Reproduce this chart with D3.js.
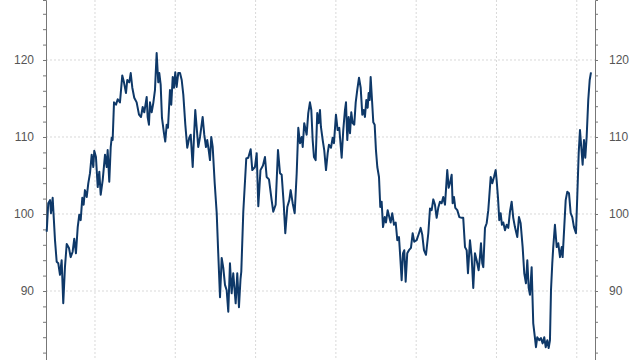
<!DOCTYPE html>
<html>
<head>
<meta charset="utf-8">
<script src="https://cdn.jsdelivr.net/npm/d3@7"></script>
<style>
  body { margin: 0; background: #fff; }
  text { font-family: "Liberation Sans", Arial, sans-serif; }
</style>
</head>
<body>
<svg id="chart"></svg>
<script>
var width = 640, height = 360;

// decimal years and index values
var dates = [
  2011.399, 2011.418, 2011.440, 2011.452, 2011.473, 2011.502, 2011.523, 2011.543, 2011.564, 2011.585,
  2011.605, 2011.626, 2011.648, 2011.676, 2011.697, 2011.722, 2011.742, 2011.763, 2011.785, 2011.804,
  2011.822, 2011.842, 2011.859, 2011.875, 2011.897, 2011.917, 2011.938, 2011.959, 2011.979, 2011.991,
  2012.012, 2012.034, 2012.054, 2012.071, 2012.096, 2012.125, 2012.146, 2012.158, 2012.178, 2012.196,
  2012.208, 2012.220, 2012.237, 2012.262, 2012.283, 2012.311, 2012.340, 2012.361, 2012.386, 2012.402,
  2012.427, 2012.445, 2012.465, 2012.489, 2012.519, 2012.548, 2012.573, 2012.594, 2012.614, 2012.644,
  2012.656, 2012.672, 2012.685, 2012.706, 2012.726, 2012.747, 2012.768, 2012.788, 2012.801, 2012.818,
  2012.834, 2012.859, 2012.875, 2012.893, 2012.909, 2012.934, 2012.950, 2012.968, 2012.984, 2013.000,
  2013.017, 2013.037, 2013.059, 2013.080, 2013.100, 2013.125, 2013.149, 2013.174, 2013.192, 2013.217,
  2013.233, 2013.249, 2013.266, 2013.286, 2013.308, 2013.341, 2013.361, 2013.382, 2013.398, 2013.416,
  2013.432, 2013.448, 2013.466, 2013.491, 2013.516, 2013.535, 2013.557, 2013.578, 2013.598, 2013.619,
  2013.640, 2013.660, 2013.681, 2013.702, 2013.722, 2013.752, 2013.772, 2013.793, 2013.812, 2013.822,
  2013.847, 2013.884, 2013.909, 2013.939, 2013.959, 2013.992, 2014.014, 2014.034, 2014.061, 2014.092,
  2014.117, 2014.138, 2014.167, 2014.200, 2014.220, 2014.250, 2014.279, 2014.304, 2014.325, 2014.350,
  2014.370, 2014.395, 2014.420, 2014.437, 2014.462, 2014.487, 2014.512, 2014.532, 2014.553, 2014.574,
  2014.587, 2014.606, 2014.636, 2014.656, 2014.677, 2014.694, 2014.711, 2014.727, 2014.748, 2014.768,
  2014.786, 2014.802, 2014.814, 2014.836, 2014.855, 2014.877, 2014.898, 2014.914, 2014.939, 2014.960,
  2014.976, 2015.001, 2015.022, 2015.042, 2015.072, 2015.092, 2015.113, 2015.126, 2015.142, 2015.159,
  2015.176, 2015.192, 2015.209, 2015.229, 2015.247, 2015.266, 2015.288, 2015.309, 2015.329, 2015.346,
  2015.362, 2015.379, 2015.396, 2015.408, 2015.421, 2015.433, 2015.450, 2015.466, 2015.483, 2015.499,
  2015.516, 2015.537, 2015.553, 2015.570, 2015.587, 2015.608, 2015.624, 2015.645, 2015.665, 2015.682,
  2015.702, 2015.724, 2015.745, 2015.765, 2015.786, 2015.802, 2015.819, 2015.836, 2015.852, 2015.869,
  2015.889, 2015.910, 2015.935, 2015.956, 2015.976, 2016.006, 2016.035, 2016.056, 2016.076, 2016.097,
  2016.122, 2016.151, 2016.172, 2016.193, 2016.213, 2016.234, 2016.255, 2016.275, 2016.296, 2016.317,
  2016.337, 2016.359, 2016.387, 2016.405, 2016.421, 2016.442, 2016.454, 2016.471, 2016.487, 2016.512,
  2016.537, 2016.567, 2016.586, 2016.608, 2016.629, 2016.645, 2016.670, 2016.691, 2016.711, 2016.732,
  2016.753, 2016.778, 2016.794, 2016.807, 2016.823, 2016.836, 2016.857, 2016.878, 2016.898, 2016.910,
  2016.928, 2016.948, 2016.969, 2016.990, 2017.002, 2017.019, 2017.035, 2017.052, 2017.068, 2017.085,
  2017.106, 2017.127, 2017.147, 2017.168, 2017.189, 2017.209, 2017.230, 2017.259, 2017.280, 2017.301,
  2017.326, 2017.346, 2017.367, 2017.384, 2017.401, 2017.417, 2017.438, 2017.458, 2017.479, 2017.492,
  2017.508, 2017.533, 2017.554, 2017.575, 2017.595, 2017.613, 2017.633, 2017.650, 2017.666, 2017.679,
  2017.695, 2017.707, 2017.728, 2017.750, 2017.770, 2017.791, 2017.812, 2017.824, 2017.844, 2017.862,
  2017.882, 2017.903, 2017.924, 2017.944, 2017.965, 2017.990, 2018.006, 2018.024, 2018.040, 2018.056,
  2018.073, 2018.090, 2018.106, 2018.123, 2018.143, 2018.161, 2018.177
];

var values = [
  97.7, 101.4, 101.8, 100.1, 102.1, 96.6, 93.8, 93.6, 92.1, 94.0,
  88.4, 93.1, 96.1, 95.6, 94.4, 95.1, 96.8, 94.9, 98.3, 99.9,
  99.2, 102.1, 101.2, 103.1, 102.2, 104.0, 105.3, 107.7, 106.1, 108.2,
  107.4, 103.5, 105.5, 102.5, 104.4, 107.7, 106.1, 108.3, 104.2, 108.7,
  109.9, 109.6, 114.5, 114.2, 114.9, 114.5, 118.0, 117.1, 115.7, 117.4,
  117.1, 118.3, 116.4, 115.1, 114.5, 112.9, 112.6, 113.9, 113.2, 115.2,
  112.6, 111.6, 114.5, 113.2, 114.4, 116.1, 120.9, 117.1, 118.3, 116.8,
  112.5, 110.5, 109.4, 111.6, 111.2, 116.1, 114.2, 117.8, 116.4, 118.4,
  116.5, 118.3, 118.3, 117.4, 115.5, 111.6, 108.6, 109.9, 110.3, 106.1,
  110.0, 113.5, 111.3, 108.7, 110.0, 112.6, 110.3, 108.7, 109.6, 108.3,
  107.0, 110.0, 108.7, 104.0, 100.1, 94.9, 89.2, 94.3, 93.0, 90.8,
  90.1, 87.3, 93.6, 89.7, 92.3, 88.4, 92.3, 87.9, 91.5, 92.5,
  100.3, 107.2, 107.3, 108.4, 105.7, 106.1, 107.9, 101.0, 105.7, 106.3,
  107.4, 104.8, 104.5, 101.8, 100.3, 101.2, 108.3, 105.3, 105.1, 101.4,
  97.5, 100.9, 101.8, 103.1, 101.4, 100.1, 105.3, 111.2, 109.2, 110.0,
  108.7, 111.8, 110.3, 113.1, 114.5, 113.5, 109.6, 107.4, 107.0, 113.1,
  111.8, 113.5, 111.3, 109.6, 108.3, 105.7, 107.9, 109.0, 108.6, 109.9,
  109.2, 112.9, 110.9, 111.2, 107.3, 110.9, 113.5, 114.5, 109.6, 112.6,
  110.5, 113.2, 111.8, 111.6, 114.5, 116.1, 117.7, 116.4, 112.9, 113.5,
  112.6, 114.8, 113.8, 115.7, 114.8, 117.8, 114.8, 111.9, 111.6, 108.3,
  106.1, 104.8, 100.9, 101.6, 98.3, 99.6, 98.9, 100.5, 99.6, 98.9,
  100.1, 98.6, 98.9, 96.6, 97.0, 94.4, 91.4, 94.9, 95.3, 91.2,
  94.9, 95.3, 95.6, 97.5, 96.4, 96.6, 97.5, 98.2, 97.3, 95.3,
  94.7, 97.5, 100.7, 100.5, 101.9, 101.2, 99.5, 100.8, 101.6, 101.4,
  102.2, 101.2, 105.7, 103.4, 104.0, 105.1, 101.4, 102.2, 100.8, 100.5,
  99.6, 99.5, 99.5, 95.7, 95.3, 92.3, 96.6, 94.4, 90.4, 94.9,
  94.0, 92.7, 94.4, 96.2, 93.6, 93.1, 98.2, 98.8, 100.5, 102.2,
  104.8, 104.0, 104.8, 105.7, 104.4, 102.1, 99.2, 100.1, 98.6, 98.9,
  97.9, 98.6, 98.2, 100.3, 101.6, 99.5, 98.3, 97.0, 99.6, 98.8,
  95.7, 92.3, 91.0, 94.0, 90.4, 89.5, 93.1, 85.8, 83.9, 82.7,
  84.0, 83.6, 83.9, 83.2, 84.0, 82.7, 83.6, 82.6, 83.6, 90.1,
  93.6, 95.7, 98.6, 95.7, 96.2, 94.4, 95.7, 94.4, 98.3, 101.8,
  102.9, 102.7, 100.1, 99.6, 98.3, 97.5, 102.2, 107.9, 110.9, 108.7,
  106.4, 109.6, 107.3, 110.0, 114.8, 117.4, 118.4
];

var gridYears = [2012, 2013, 2014, 2015, 2016, 2017, 2018];
var yLabels = [90, 100, 110, 120];
var yMinorTicks = d3.range(82, 128, 2);

var left = 46, right = 595;

var x = d3.scaleLinear()
    .domain([2011.39, 2018.227])
    .range([left, right]);

var y = d3.scaleLinear()
    .domain([81.04, 127.79])
    .range([height, 0]);

var svg = d3.select("#chart")
    .attr("width", width)
    .attr("height", height);

// vertical grid
svg.append("g").selectAll("line").data(gridYears).enter().append("line")
    .attr("x1", function(d) { return x(d); })
    .attr("x2", function(d) { return x(d); })
    .attr("y1", 0)
    .attr("y2", height)
    .attr("stroke", "#d9d9d9")
    .attr("stroke-dasharray", "2,2");

// horizontal grid
svg.append("g").selectAll("line").data(yLabels).enter().append("line")
    .attr("x1", left)
    .attr("x2", right)
    .attr("y1", function(d) { return y(d); })
    .attr("y2", function(d) { return y(d); })
    .attr("stroke", "#d9d9d9")
    .attr("stroke-dasharray", "2,2");

function fmt(d) {
    return yLabels.indexOf(d) >= 0 ? d : "";
}

var leftAxis = svg.append("g")
    .attr("transform", "translate(" + left + ",0)")
    .call(d3.axisLeft(y).tickValues(yMinorTicks).tickFormat(fmt).tickSize(3).tickPadding(9));

var rightAxis = svg.append("g")
    .attr("transform", "translate(" + right + ",0)")
    .call(d3.axisRight(y).tickValues(yMinorTicks).tickFormat(fmt).tickSize(3).tickPadding(11));

[leftAxis, rightAxis].forEach(function(a) {
    a.select(".domain").attr("stroke", "#777");
    a.selectAll(".tick line").attr("stroke", "#777");
    a.selectAll(".tick text")
        .attr("fill", "#555")
        .style("font-size", "12px")
        .style("font-family", "'Liberation Sans', Arial, sans-serif");
});

var points = dates.map(function(d, i) { return [d, values[i]]; });

var line = d3.line()
    .x(function(d) { return x(d[0]); })
    .y(function(d) { return y(d[1]); });

svg.append("path")
    .datum(points)
    .attr("fill", "none")
    .attr("stroke", "#0e3868")
    .attr("stroke-width", 2)
    .attr("stroke-linejoin", "round")
    .attr("d", line);
</script>
</body>
</html>
